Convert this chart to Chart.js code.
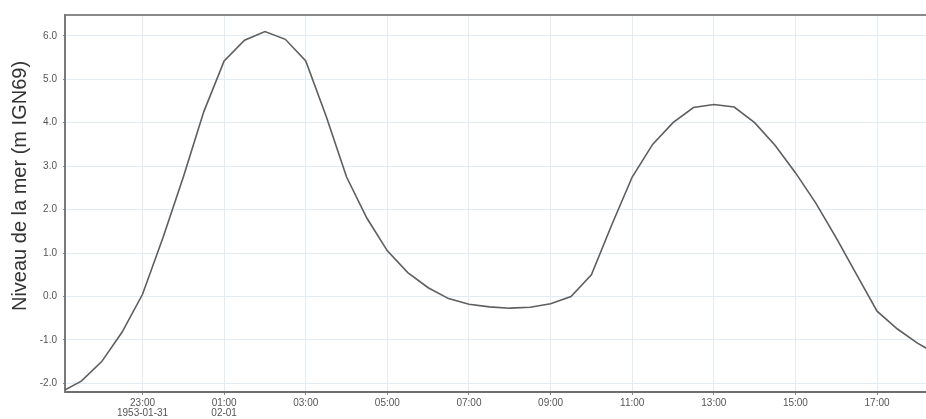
<!DOCTYPE html>
<html>
<head>
<meta charset="utf-8">
<script src="https://cdn.jsdelivr.net/npm/chart.js@4/dist/chart.umd.min.js"></script>
<style>
  html, body { margin: 0; padding: 0; background: #fff; }
  #wrap { width: 926px; height: 419px; }
</style>
</head>
<body>
<div id="wrap"><canvas id="tide"></canvas></div>
<script>
// hours counted from 1953-01-31 00:00, one reading every 30 minutes
const hours = [21.0, 21.5, 22.0, 22.5, 23.0, 23.5, 24.0, 24.5, 25.0, 25.5,
               26.0, 26.5, 27.0, 27.5, 28.0, 28.5, 29.0, 29.5, 30.0, 30.5,
               31.0, 31.5, 32.0, 32.5, 33.0, 33.5, 34.0, 34.5, 35.0, 35.5,
               36.0, 36.5, 37.0, 37.5, 38.0, 38.5, 39.0, 39.5, 40.0, 40.5,
               41.0, 41.5, 42.0, 42.5];
const level = [-2.2, -1.95, -1.5, -0.82, 0.05, 1.35, 2.75, 4.25, 5.42, 5.9,
               6.1, 5.92, 5.42, 4.15, 2.75, 1.8, 1.05, 0.55, 0.2, -0.05,
               -0.18, -0.24, -0.27, -0.25, -0.17, 0.0, 0.5, 1.65, 2.75, 3.5,
               4.0, 4.35, 4.42, 4.36, 4.0, 3.48, 2.85, 2.15, 1.35, 0.5,
               -0.34, -0.75, -1.08, -1.35];
const xTicks = [23, 25, 27, 29, 31, 33, 35, 37, 39, 41];
const xTickLabels = [["23:00", "1953-01-31"], ["01:00", "02-01"], "03:00", "05:00", "07:00",
                     "09:00", "11:00", "13:00", "15:00", "17:00"];
const yTicks = [-2, -1, 0, 1, 2, 3, 4, 5, 6];
const yTitle = 'Niveau de la mer (m IGN69)';

const fontFamily = "'Liberation Sans', Arial, sans-serif";
const tickFont = { family: fontFamily, size: 10 };

// axis title drawn by hand so it can sit a bit above the middle like the original
const yTitlePlugin = {
    id: 'yTitle',
    afterDraw(chart) {
        const ctx = chart.ctx;
        ctx.save();
        ctx.translate(20, 186);
        ctx.rotate(-Math.PI / 2);
        ctx.font = "20px " + fontFamily;
        ctx.fillStyle = '#333';
        ctx.textAlign = 'center';
        ctx.textBaseline = 'middle';
        ctx.fillText(yTitle, 0, 0);
        ctx.restore();
    },
};

new Chart("tide", {
    type: 'line',
    data: {
        datasets: [{
            data: hours.map((h, i) => ({ x: h, y: level[i] })),
            borderColor: '#5e5e5e',
            borderWidth: 1.6,
            pointRadius: 0,
            tension: 0,
            fill: false,
        }],
    },
    options: {
        responsive: true,
        maintainAspectRatio: false,
        animation: false,
        layout: { padding: { top: 15, right: 0, left: 0, bottom: 0 } },
        plugins: {
            legend: { display: false },
            tooltip: { enabled: false },
        },
        scales: {
            x: {
                type: 'linear',
                min: 21.1,
                max: 42.2,
                afterBuildTicks: axis => { axis.ticks = xTicks.map(v => ({ value: v })); },
                afterFit: axis => { axis.height = 27; },
                ticks: {
                    autoSkip: false,
                    maxRotation: 0,
                    padding: 3,
                    color: '#555',
                    font: { ...tickFont, lineHeight: 1.0 },
                    callback: (v) => xTickLabels[xTicks.indexOf(v)],
                },
                grid: { color: '#e3ecf5', lineWidth: 1, drawTicks: true, tickLength: 3, tickColor: '#888' },
                border: { color: '#6f6f6f', width: 2 },
            },
            xTop: {
                type: 'linear',
                position: 'top',
                min: 21.1,
                max: 42.2,
                afterFit: axis => { axis.height = 0; },
                ticks: { display: false },
                grid: { display: false },
                border: { color: '#8a8a8a', width: 2 },
            },
            y: {
                min: -2.2,
                max: 6.48,
                afterBuildTicks: axis => { axis.ticks = yTicks.map(v => ({ value: v })); },
                afterFit: axis => { axis.width = 65; },
                ticks: {
                    padding: 6,
                    color: '#555',
                    font: tickFont,
                    callback: v => v.toFixed(1),
                },
                grid: { color: '#e3ecf5', lineWidth: 1, tickLength: 2, tickColor: '#888' },
                border: { color: '#7a7a7a', width: 2 },
            },
        },
    },
    plugins: [yTitlePlugin],
});
</script>
</body>
</html>
